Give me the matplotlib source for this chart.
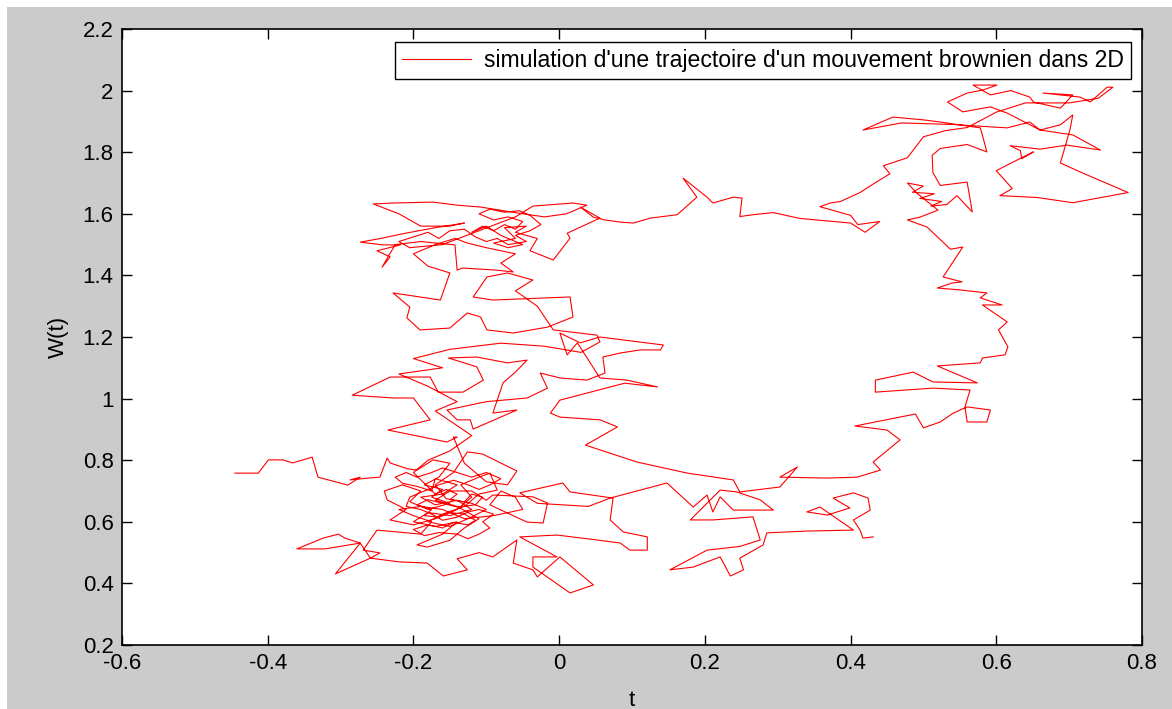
import numpy as np
import matplotlib.pyplot as plt
from matplotlib.patches import Rectangle

plt.rcParams['font.family'] = ['Liberation Sans', 'DejaVu Sans']

# trajectoire brownienne (x, y), relevee morceau par morceau
depart = [(-0.445, 0.758), (-0.413, 0.758), (-0.399, 0.801), (-0.379, 0.801), (-0.366, 0.791),
          (-0.339, 0.810), (-0.331, 0.745), (-0.301, 0.726), (-0.290, 0.719), (-0.273, 0.745)]

amas_bas_1 = [(-0.287, 0.736), (-0.262, 0.742), (-0.246, 0.745), (-0.236, 0.807), (-0.232, 0.791),
              (-0.208, 0.772), (-0.195, 0.768), (-0.173, 0.801), (-0.150, 0.790), (-0.165, 0.745),
              (-0.185, 0.720), (-0.160, 0.705), (-0.175, 0.680), (-0.150, 0.660), (-0.180, 0.640),
              (-0.205, 0.665), (-0.190, 0.700), (-0.215, 0.720), (-0.240, 0.700), (-0.236, 0.671),
              (-0.210, 0.640), (-0.232, 0.606), (-0.200, 0.590), (-0.170, 0.610), (-0.140, 0.640),
              (-0.120, 0.680), (-0.135, 0.720), (-0.110, 0.745), (-0.095, 0.758), (-0.085, 0.703),
              (-0.110, 0.690), (-0.130, 0.650), (-0.160, 0.625), (-0.180, 0.600), (-0.150, 0.585),
              (-0.125, 0.610), (-0.100, 0.640), (-0.120, 0.660), (-0.155, 0.675), (-0.170, 0.720),
              (-0.145, 0.760), (-0.126, 0.827), (-0.105, 0.820), (-0.058, 0.765), (-0.071, 0.720),
              (-0.100, 0.730), (-0.130, 0.790), (-0.145, 0.875)]

milieu = [(-0.140, 0.875), (-0.154, 0.859), (-0.235, 0.898), (-0.177, 0.931), (-0.200, 1.002),
          (-0.228, 1.002), (-0.284, 1.011), (-0.232, 1.070), (-0.177, 1.070), (-0.166, 1.021),
          (-0.132, 1.021), (-0.104, 1.060), (-0.113, 1.103), (-0.152, 1.132), (-0.113, 1.135),
          (-0.071, 1.116), (-0.044, 1.125), (-0.060, 1.086), (-0.077, 1.051), (-0.091, 0.953),
          (-0.058, 0.963), (-0.118, 0.901), (-0.122, 0.931), (-0.140, 0.931), (-0.154, 0.963),
          (-0.100, 0.990), (-0.044, 1.002), (-0.016, 1.034), (-0.026, 1.083), (0.001, 1.067),
          (0.038, 1.060), (0.063, 1.083), (0.060, 1.135), (0.084, 1.148), (0.111, 1.158),
          (0.139, 1.158), (0.143, 1.174), (0.056, 1.200), (0.029, 1.181), (0.001, 1.213),
          (0.011, 1.142), (0.025, 1.181), (0.056, 1.067), (0.093, 1.060), (0.135, 1.038),
          (0.090, 1.050), (0.001, 0.995), (-0.012, 0.953), (0.001, 0.940), (0.056, 0.931),
          (0.080, 0.908), (0.036, 0.849), (0.107, 0.794), (0.176, 0.758), (0.239, 0.736),
          (0.248, 0.697), (0.303, 0.713), (0.327, 0.778), (0.303, 0.745), (0.368, 0.742),
          (0.409, 0.745), (0.441, 0.768), (0.431, 0.794), (0.468, 0.866)]

cote_droit = [(0.450, 0.898), (0.406, 0.911), (0.489, 0.950), (0.500, 0.905), (0.523, 0.924),
              (0.541, 0.953), (0.560, 0.973), (0.592, 0.963), (0.587, 0.924), (0.560, 0.924),
              (0.557, 0.973), (0.564, 1.028), (0.513, 1.034), (0.434, 1.021), (0.434, 1.060),
              (0.486, 1.086), (0.513, 1.054), (0.574, 1.051), (0.519, 1.106), (0.578, 1.116),
              (0.581, 1.132), (0.612, 1.142), (0.616, 1.168), (0.603, 1.223), (0.615, 1.249),
              (0.581, 1.304), (0.608, 1.304), (0.578, 1.327), (0.587, 1.343), (0.550, 1.353),
              (0.519, 1.359), (0.539, 1.375), (0.553, 1.379), (0.527, 1.395), (0.554, 1.492),
              (0.537, 1.485), (0.505, 1.557), (0.478, 1.580), (0.495, 1.589), (0.520, 1.612),
              (0.491, 1.667), (0.478, 1.700)]

haut_droit = [(0.500, 1.690), (0.485, 1.670), (0.515, 1.665), (0.495, 1.650), (0.525, 1.640),
              (0.510, 1.625), (0.532, 1.630), (0.546, 1.659), (0.567, 1.606), (0.560, 1.703),
              (0.523, 1.692), (0.513, 1.734), (0.512, 1.790), (0.523, 1.812), (0.560, 1.825),
              (0.587, 1.801), (0.582, 1.846), (0.578, 1.879), (0.523, 1.898), (0.500, 1.905),
              (0.458, 1.914), (0.417, 1.872), (0.470, 1.895), (0.540, 1.890), (0.615, 1.879),
              (0.646, 1.898), (0.660, 1.872), (0.688, 1.889), (0.705, 1.921), (0.701, 1.872),
              (0.688, 1.765), (0.715, 1.736), (0.781, 1.669), (0.705, 1.636), (0.656, 1.653),
              (0.605, 1.659), (0.622, 1.682), (0.600, 1.740), (0.623, 1.768), (0.651, 1.801),
              (0.635, 1.779), (0.633, 1.805), (0.619, 1.821), (0.660, 1.810), (0.697, 1.823),
              (0.743, 1.807), (0.705, 1.856), (0.660, 1.872), (0.615, 1.927), (0.592, 1.947),
              (0.554, 1.931), (0.533, 1.963), (0.560, 1.992), (0.582, 2.002), (0.601, 2.018),
              (0.568, 2.018), (0.592, 1.986), (0.620, 2.000), (0.646, 1.979), (0.651, 1.963),
              (0.688, 1.943), (0.705, 1.986), (0.664, 1.992), (0.715, 1.979), (0.729, 1.963),
              (0.743, 1.992), (0.752, 2.011), (0.760, 2.011), (0.740, 1.975), (0.700, 1.960),
              (0.640, 1.960), (0.600, 1.930), (0.560, 1.880), (0.530, 1.870), (0.500, 1.850),
              (0.478, 1.782), (0.445, 1.756), (0.454, 1.730), (0.434, 1.701), (0.413, 1.669),
              (0.386, 1.640)]

ligne_16 = [(0.372, 1.635), (0.358, 1.623), (0.400, 1.595), (0.410, 1.565), (0.440, 1.575),
            (0.420, 1.540), (0.400, 1.570), (0.330, 1.585), (0.294, 1.604), (0.266, 1.597),
            (0.248, 1.591), (0.251, 1.651), (0.239, 1.654), (0.211, 1.635), (0.203, 1.654),
            (0.170, 1.716), (0.189, 1.654), (0.180, 1.635), (0.162, 1.597), (0.125, 1.586),
            (0.102, 1.570), (0.084, 1.573), (0.063, 1.580), (0.047, 1.589), (0.029, 1.622),
            (0.056, 1.586)]

amas_haut = [(0.011, 1.537), (0.015, 1.521), (-0.008, 1.450), (-0.040, 1.480), (-0.030, 1.520),
             (-0.060, 1.540), (-0.045, 1.560), (-0.075, 1.555), (-0.060, 1.520), (-0.090, 1.505),
             (-0.070, 1.490), (-0.050, 1.500), (-0.080, 1.530), (-0.100, 1.560),
             (-0.120, 1.540), (-0.105, 1.560), (-0.090, 1.545), (-0.075, 1.565), (-0.060, 1.550),
             (-0.050, 1.575), (-0.070, 1.590), (-0.090, 1.580), (-0.110, 1.600), (-0.095, 1.615),
             (-0.075, 1.605), (-0.055, 1.610), (-0.040, 1.595), (-0.025, 1.565), (-0.040, 1.545),
             (-0.060, 1.530), (-0.045, 1.510), (-0.070, 1.500), (-0.085, 1.520), (-0.100, 1.510),
             (-0.115, 1.525), (-0.130, 1.550), (-0.150, 1.545), (-0.165, 1.520), (-0.180, 1.540),
             (-0.200, 1.525), (-0.220, 1.510), (-0.205, 1.490), (-0.160, 1.500),
             (-0.060, 1.590), (-0.036, 1.625), (0.019, 1.635), (0.038, 1.628), (0.010, 1.600),
             (-0.020, 1.590), (-0.050, 1.600), (-0.108, 1.622), (-0.140, 1.628), (-0.173, 1.638),
             (-0.228, 1.635), (-0.255, 1.632), (-0.220, 1.600), (-0.190, 1.560), (-0.150, 1.560),
             (-0.130, 1.570), (-0.170, 1.555), (-0.215, 1.535), (-0.245, 1.520), (-0.273, 1.508),
             (-0.242, 1.499), (-0.218, 1.499), (-0.250, 1.480), (-0.232, 1.460), (-0.243, 1.427),
             (-0.225, 1.500), (-0.190, 1.510), (-0.143, 1.499), (-0.140, 1.417), (-0.133, 1.424),
             (-0.085, 1.417), (-0.063, 1.411), (-0.080, 1.440), (-0.060, 1.470), (-0.100, 1.490),
             (-0.126, 1.505), (-0.143, 1.520), (-0.170, 1.500), (-0.200, 1.470), (-0.180, 1.430),
             (-0.150, 1.408), (-0.163, 1.320), (-0.228, 1.343), (-0.205, 1.297), (-0.209, 1.262),
             (-0.191, 1.223), (-0.150, 1.229), (-0.126, 1.278), (-0.108, 1.265), (-0.099, 1.223),
             (-0.063, 1.213), (-0.016, 1.232), (0.019, 1.265), (0.015, 1.330), (-0.091, 1.320),
             (-0.118, 1.330), (-0.099, 1.395), (-0.071, 1.408), (-0.036, 1.385), (-0.060, 1.350),
             (-0.030, 1.300), (-0.008, 1.223), (0.052, 1.206), (0.056, 1.184), (0.030, 1.150),
             (-0.020, 1.170), (-0.080, 1.180), (-0.150, 1.160), (-0.200, 1.130), (-0.160, 1.100),
             (-0.220, 1.080), (-0.180, 1.040), (-0.140, 0.990), (-0.170, 0.960), (-0.120, 0.880),
             (-0.150, 0.830)]

amas_coeur = [(-0.180, 0.800), (-0.200, 0.760), (-0.170, 0.690), (-0.155, 0.705), (-0.140, 0.690),
              (-0.150, 0.672), (-0.130, 0.665), (-0.120, 0.690), (-0.105, 0.680), (-0.115, 0.655),
              (-0.140, 0.648), (-0.160, 0.660), (-0.180, 0.672), (-0.195, 0.655), (-0.175, 0.640),
              (-0.185, 0.620), (-0.165, 0.615), (-0.150, 0.630), (-0.130, 0.625), (-0.115, 0.605),
              (-0.125, 0.590), (-0.145, 0.598), (-0.160, 0.580), (-0.180, 0.590), (-0.200, 0.575),
              (-0.185, 0.555), (-0.165, 0.565), (-0.140, 0.560), (-0.125, 0.545), (-0.110, 0.560),
              (-0.095, 0.580), (-0.105, 0.600), (-0.090, 0.625), (-0.110, 0.640), (-0.125, 0.632),
              (-0.140, 0.615), (-0.160, 0.605), (-0.175, 0.625), (-0.190, 0.640), (-0.210, 0.650),
              (-0.205, 0.680), (-0.185, 0.700), (-0.165, 0.720), (-0.145, 0.735), (-0.125, 0.720),
              (-0.110, 0.705), (-0.095, 0.720), (-0.080, 0.740), (-0.100, 0.760), (-0.120, 0.745),
              (-0.140, 0.760), (-0.160, 0.775), (-0.175, 0.760), (-0.195, 0.745), (-0.210, 0.760),
              (-0.225, 0.745), (-0.215, 0.725), (-0.195, 0.715), (-0.175, 0.700)]

amas_bas_2 = [(-0.170, 0.740), (-0.140, 0.720), (-0.160, 0.690),
              (-0.190, 0.680), (-0.170, 0.655), (-0.140, 0.670), (-0.120, 0.640), (-0.150, 0.620),
              (-0.180, 0.630), (-0.200, 0.600), (-0.170, 0.585), (-0.140, 0.600), (-0.160, 0.560),
              (-0.195, 0.525), (-0.181, 0.518), (-0.150, 0.540), (-0.130, 0.580), (-0.110, 0.610),
              (-0.140, 0.650), (-0.170, 0.670), (-0.150, 0.700), (-0.120, 0.700), (-0.100, 0.670),
              (-0.091, 0.687), (-0.036, 0.681), (-0.016, 0.661), (-0.022, 0.596), (-0.044, 0.599),
              (-0.095, 0.655), (-0.080, 0.700), (-0.060, 0.680), (-0.050, 0.640), (-0.090, 0.620),
              (-0.130, 0.610), (-0.160, 0.640), (-0.190, 0.650), (-0.220, 0.640), (-0.200, 0.620),
              (-0.175, 0.600), (-0.190, 0.560), (-0.250, 0.573), (-0.269, 0.508), (-0.246, 0.499),
              (-0.259, 0.482), (-0.273, 0.531), (-0.294, 0.547), (-0.303, 0.560), (-0.324, 0.547),
              (-0.360, 0.512), (-0.321, 0.512), (-0.273, 0.531), (-0.307, 0.431), (-0.259, 0.482),
              (-0.220, 0.470), (-0.181, 0.466), (-0.159, 0.424), (-0.126, 0.444), (-0.140, 0.480),
              (-0.110, 0.500), (-0.091, 0.486), (-0.058, 0.541), (-0.063, 0.466), (-0.036, 0.444),
              (-0.030, 0.421), (0.001, 0.486), (0.047, 0.395), (0.015, 0.369), (-0.036, 0.453),
              (-0.036, 0.486), (-0.003, 0.486)]

bas_droite = [(-0.054, 0.551), (-0.003, 0.557), (0.052, 0.541), (0.084, 0.531), (0.097, 0.508),
              (0.121, 0.508), (0.121, 0.551), (0.088, 0.567), (0.070, 0.606), (0.074, 0.677),
              (0.015, 0.697), (0.005, 0.726), (-0.054, 0.694), (-0.030, 0.660), (0.040, 0.650),
              (0.070, 0.677), (0.148, 0.726), (0.184, 0.648), (0.203, 0.687), (0.211, 0.632),
              (0.221, 0.681), (0.239, 0.638), (0.294, 0.638), (0.276, 0.671), (0.244, 0.697),
              (0.221, 0.703), (0.180, 0.606), (0.211, 0.606), (0.266, 0.616), (0.276, 0.541),
              (0.248, 0.520), (0.203, 0.508), (0.152, 0.444), (0.184, 0.453), (0.221, 0.486),
              (0.235, 0.424), (0.253, 0.444), (0.248, 0.482), (0.280, 0.525), (0.285, 0.564),
              (0.340, 0.570), (0.404, 0.573), (0.358, 0.648), (0.340, 0.632), (0.368, 0.622),
              (0.399, 0.645), (0.376, 0.677), (0.404, 0.694), (0.424, 0.677), (0.427, 0.638),
              (0.404, 0.606), (0.413, 0.573), (0.417, 0.547), (0.431, 0.551)]

xticks = [-0.6, -0.4, -0.2, 0, 0.2, 0.4, 0.6, 0.8]
xtick_labels = ['-0.6', '-0.4', '-0.2', '0', '0.2', '0.4', '0.6', '0.8']
yticks = [0.2, 0.4, 0.6, 0.8, 1.0, 1.2, 1.4, 1.6, 1.8, 2.0, 2.2]
ytick_labels = ['0.2', '0.4', '0.6', '0.8', '1', '1.2', '1.4', '1.6', '1.8', '2', '2.2']

chemin = np.array(depart + amas_bas_1 + milieu + cote_droit + haut_droit
                  + ligne_16 + amas_haut + amas_coeur + amas_bas_2 + bas_droite)
x, y = chemin[:, 0], chemin[:, 1]

W, H = 1172, 709
fig = plt.figure(figsize=(W / 100, H / 100), dpi=100, facecolor='#cbcbcb')
# liseré blanc en haut et a gauche
fig.patches.append(Rectangle((0, 1 - 7 / H), 1, 7 / H, transform=fig.transFigure,
                             facecolor='white', edgecolor='none', zorder=0))
fig.patches.append(Rectangle((0, 0), 7 / W, 1, transform=fig.transFigure,
                             facecolor='white', edgecolor='none', zorder=0))

ax = fig.add_axes([122 / W, 64 / H, 1020 / W, 616 / H])
ax.plot(x, y, color='red', lw=0.8,
        label="simulation d'une trajectoire d'un mouvement brownien dans 2D")
ax.set_xlim(-0.6, 0.8)
ax.set_ylim(0.2, 2.2)
ax.set_xticks(xticks)
ax.set_xticklabels(xtick_labels)
ax.set_yticks(yticks)
ax.set_yticklabels(ytick_labels)
ax.tick_params(direction='in', length=7, width=1, top=True, right=True,
               labelsize=16, pad=6, colors='black')
for s in ax.spines.values():
    s.set_linewidth(1.2)
ax.set_xlabel('t', fontsize=16, labelpad=11)
ax.set_ylabel('W(t)', fontsize=16, labelpad=10)

leg = ax.legend(loc='upper right', bbox_to_anchor=(0.989, 0.979), borderaxespad=0,
                fancybox=False, edgecolor='black', framealpha=1, fontsize=16.6,
                handlelength=3.0, handletextpad=0.55, borderpad=0.3)
leg.get_frame().set_linewidth(1.0)

fig.savefig('out.png', dpi=100, facecolor=fig.get_facecolor())
